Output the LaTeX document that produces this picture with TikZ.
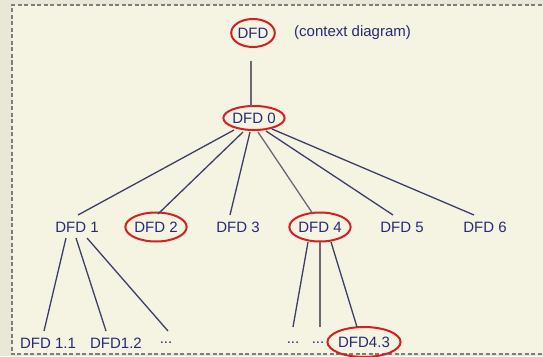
\documentclass[tikz,border=0pt]{standalone}
\usepackage{fontspec}
\setmainfont{Liberation Sans}
\usetikzlibrary{shapes.geometric,calc}
\definecolor{outerbg}{RGB}{233,231,214}
\definecolor{innerbg}{RGB}{245,243,225}
\definecolor{navy}{RGB}{38,42,118}
\definecolor{ringred}{RGB}{212,32,32}
\definecolor{linkc}{RGB}{58,62,108}
\definecolor{linkg}{RGB}{105,105,118}
\definecolor{borderg}{RGB}{125,125,125}
\tikzset{
  lbl/.style={text=navy, font=\fontsize{15}{18}\selectfont, inner sep=0pt},
  ring/.style={lbl, ellipse, draw=ringred, line width=2pt},
  link/.style={draw=linkc, line width=1.3pt},
  glink/.style={draw=linkg, line width=1.3pt}
}
\begin{document}
\begin{tikzpicture}[x=1pt,y=-1pt]
\useasboundingbox (0,0) rectangle (543,356);
\fill[outerbg] (0,0) rectangle (543,356);
\begin{scope}
\clip (0,0) rectangle (543,356);
\fill[innerbg] (12,5) rectangle (600,354);
\draw[borderg, line width=1.5pt, dash pattern=on 4pt off 2.5pt] (600,5) -- (12,5) -- (12,354) -- (600,354);
\end{scope}

% level 0
\node[ring, minimum width=41pt, minimum height=28pt] (dfd) at (253,33) {DFD};
\node[lbl, anchor=west] (ctx) at (294,33) {(context diagram)};
% level 1
\node[ring, minimum width=59pt, minimum height=24pt] (dfd0) at (254,118) {DFD 0};
% level 2
\node[lbl] (dfd1) at (77,227) {DFD 1};
\node[ring, minimum width=58pt, minimum height=29pt] (dfd2) at (156,227) {DFD 2};
\node[lbl] (dfd3) at (238,227) {DFD 3};
\node[ring, minimum width=58pt, minimum height=29pt] (dfd4) at (320,227) {DFD 4};
\node[lbl] (dfd5) at (402,227) {DFD 5};
\node[lbl] (dfd6) at (485,227) {DFD 6};
% level 3
\node[lbl] (dfd11) at (48,343) {DFD 1.1};
\node[lbl] (dfd12) at (116,343) {DFD1.2};
\node[lbl] (dots1) at (166,343) {...};
\node[lbl] (dots2) at (293,343) {...};
\node[lbl] (dots3) at (318,343) {...};
\node[ring, minimum width=64pt, minimum height=30pt] (dfd43) at (364,342) {DFD4.3};

% connectors
\draw[glink] ($(dfd)+(-2,28)$) -- ($(dfd0)+(-3,-12)$);
\draw[link] ($(dfd0)+(-20,12)$) -- ($(dfd1)+(1,-12)$);
\draw[link] ($(dfd0)+(-11,14)$) -- ($(dfd2)+(2,-13)$);
\draw[link] ($(dfd0)+(-4,14)$) -- ($(dfd3)+(-8,-12)$);
\draw[glink] ($(dfd0)+(4,14)$) -- ($(dfd4)+(-7,-13)$);
\draw[link] ($(dfd0)+(12,13)$) -- ($(dfd5)+(-9,-12)$);
\draw[link] ($(dfd0)+(18,11)$) -- ($(dfd6)+(-11,-12)$);

\draw[link] ($(dfd1)+(-11,11)$) -- ($(dfd11)+(-4,-12)$);
\draw[link] ($(dfd1)+(-1,11)$) -- ($(dfd12)+(-10,-12)$);
\draw[link] ($(dfd1)+(10,11)$) -- ($(dots1)+(2,-12)$);

\draw[link] ($(dfd4)+(-12,15)$) -- ($(dots2)+(0,-16)$);
\draw[glink] ($(dfd4)+(0,15)$) -- ($(dots3)+(2,-16)$);
\draw[link] ($(dfd4)+(11,15)$) -- ($(dfd43)+(-7,-15)$);
\end{tikzpicture}
\end{document}
